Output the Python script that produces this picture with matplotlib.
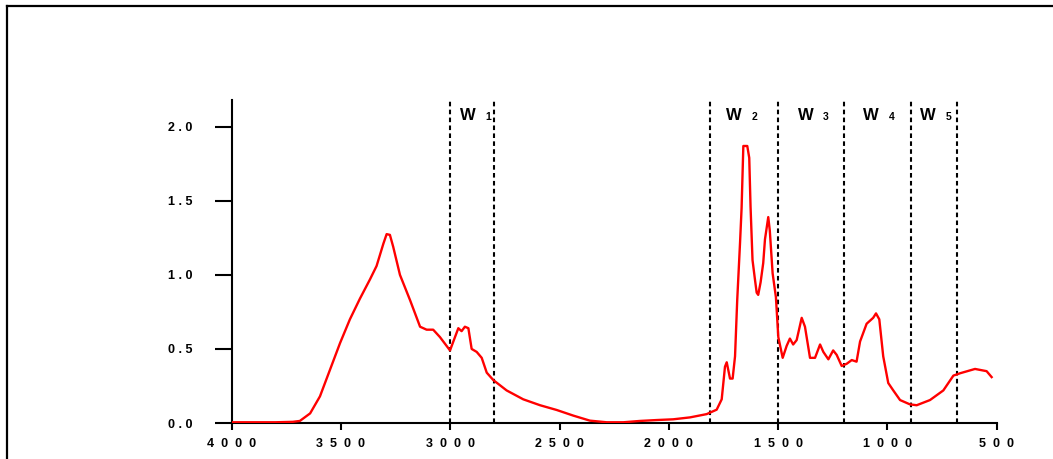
import matplotlib.pyplot as plt
from matplotlib.lines import Line2D

# FTIR absorbance spectrum, read along the wavenumber axis (cm-1)
wavenumber = [4000, 3900, 3800, 3720, 3688, 3641, 3596, 3550, 3504, 3459,
              3413, 3367, 3337, 3306, 3291, 3276, 3261, 3230, 3184, 3138,
              3108, 3078, 3047, 3001, 2963, 2948, 2933, 2917, 2902, 2879,
              2856, 2833, 2803, 2742, 2666, 2589, 2513, 2437, 2361, 2284,
              2208, 2132, 2056, 1980, 1903, 1827, 1781, 1758, 1743, 1735,
              1720, 1708, 1697, 1687, 1674, 1667, 1659, 1641, 1632, 1626,
              1617, 1606, 1598, 1591, 1580, 1568, 1560, 1545, 1538, 1525,
              1510, 1499, 1479, 1461, 1446, 1431, 1415, 1392, 1377, 1354,
              1331, 1308, 1293, 1270, 1248, 1232, 1209, 1186, 1163, 1141,
              1125, 1095, 1065, 1052, 1037, 1019, 996, 973, 942, 897,
              866, 805, 744, 698, 667, 599, 546, 523]
absorbance = [0.005, 0.005, 0.005, 0.008, 0.014, 0.065, 0.18, 0.36, 0.54, 0.70,
              0.84, 0.97, 1.06, 1.21, 1.275, 1.27, 1.19, 1.00, 0.83, 0.65,
              0.63, 0.63, 0.58, 0.49, 0.64, 0.62, 0.65, 0.64, 0.50, 0.48,
              0.44, 0.34, 0.29, 0.22, 0.16, 0.12, 0.088, 0.05, 0.016, 0.005,
              0.005, 0.014, 0.02, 0.025, 0.038, 0.06, 0.09, 0.16, 0.38, 0.41,
              0.30, 0.30, 0.45, 0.83, 1.22, 1.45, 1.87, 1.87, 1.79, 1.46,
              1.10, 0.97, 0.88, 0.865, 0.95, 1.08, 1.24, 1.39, 1.30, 1.01,
              0.85, 0.58, 0.44, 0.52, 0.57, 0.53, 0.56, 0.71, 0.65, 0.44,
              0.44, 0.53, 0.48, 0.43, 0.49, 0.46, 0.385, 0.40, 0.425, 0.414,
              0.55, 0.67, 0.71, 0.74, 0.70, 0.45, 0.27, 0.22, 0.155, 0.126,
              0.12, 0.155, 0.22, 0.32, 0.336, 0.365, 0.35, 0.31]

# window boundaries and their labels
window_edges = [3000, 2800, 1810, 1500, 1200, 890, 680]
window_names = ["1", "2", "3", "4", "5"]
window_w_x = [2955, 1739, 1410, 1112, 851]
window_sub_x = [2841, 1619, 1296, 993, 732]

x_ticks = [4000, 3500, 3000, 2500, 2000, 1500, 1000, 500]
y_ticks = [0.0, 0.5, 1.0, 1.5, 2.0]

plt.rcParams['font.family'] = ['Liberation Sans', 'DejaVu Sans']

fig = plt.figure(figsize=(10.53, 4.59), dpi=100)
ax = fig.add_axes([0.220, 0.0784, 0.7265, 0.7036])

ax.plot(wavenumber, absorbance, color='#ff0000', linewidth=1.7, zorder=3)

for edge in window_edges:
    ax.plot([edge, edge], [0, 2.18], color='black', linewidth=1.5,
            linestyle=(0, (2.2, 1.6)), zorder=2)

for name, wx, sx in zip(window_names, window_w_x, window_sub_x):
    ax.text(wx, 2.044, "W", fontsize=12, fontweight='bold', ha='left', va='baseline')
    ax.text(sx, 2.044, name, fontsize=7.5, fontweight='bold', ha='left', va='baseline')

ax.set_xlim(4000, 500)
ax.set_ylim(0, 2.18)

ax.set_xticks(x_ticks)
ax.set_xticklabels(["  ".join(str(t)) for t in x_ticks],
                   fontsize=9, fontweight='bold')
ax.set_yticks(y_ticks)
ax.set_yticklabels([" ".join(f"{t:.1f}") for t in y_ticks],
                   fontsize=9, fontweight='bold')

ax.tick_params(axis='x', direction='out', length=5, width=1.5, pad=6)
ax.tick_params(axis='y', direction='out', length=12.5, width=1.5, pad=16)

for side in ['top', 'right']:
    ax.spines[side].set_visible(False)
for side in ['left', 'bottom']:
    ax.spines[side].set_linewidth(1.5)

# outer frame line along the top and left edges
fig.add_artist(Line2D([7 / 1053, 1.0], [1 - 6 / 459, 1 - 6 / 459],
                      color='black', linewidth=1.6, transform=fig.transFigure))
fig.add_artist(Line2D([7 / 1053, 7 / 1053], [0.0, 1 - 6 / 459],
                      color='black', linewidth=1.6, transform=fig.transFigure))

fig.savefig("out.png", dpi=100)
